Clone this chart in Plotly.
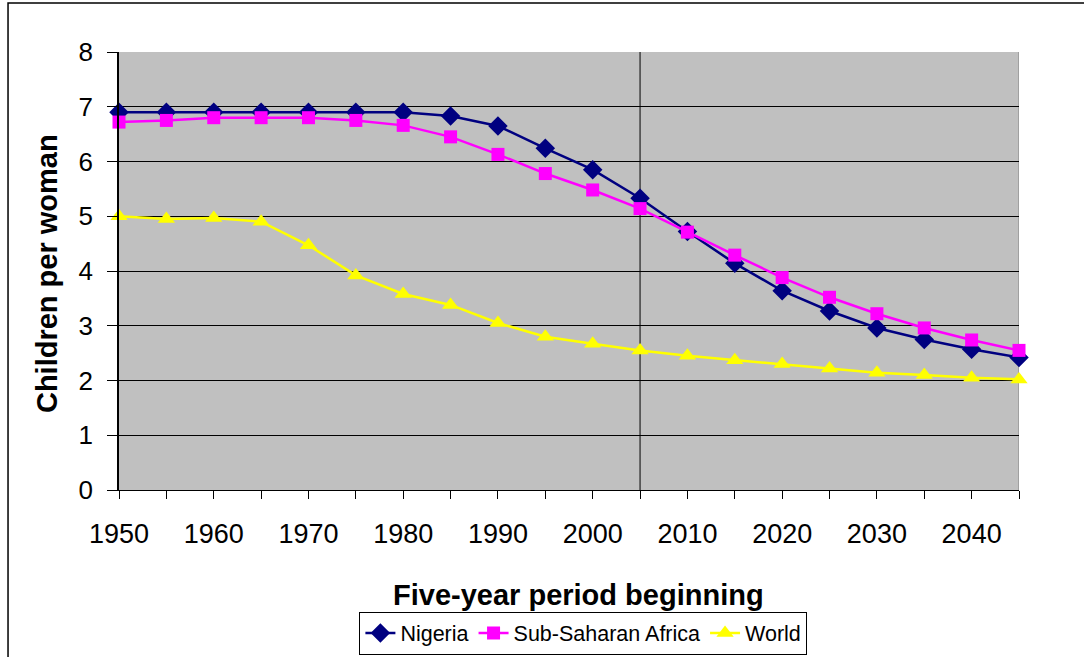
# Fertilidad: Nigeria, Africa subsahariana y Mundo (hijos por mujer)
import plotly.graph_objects as go

years = [1950, 1955, 1960, 1965, 1970, 1975, 1980, 1985, 1990, 1995,
         2000, 2005, 2010, 2015, 2020, 2025, 2030, 2035, 2040, 2045]
nigeria = [6.90, 6.90, 6.90, 6.90, 6.90, 6.90, 6.90, 6.83, 6.65, 6.24,
           5.85, 5.33, 4.72, 4.14, 3.64, 3.27, 2.96, 2.75, 2.57, 2.42]
ssa = [6.72, 6.75, 6.80, 6.80, 6.80, 6.75, 6.66, 6.45, 6.13, 5.78,
       5.48, 5.14, 4.71, 4.29, 3.88, 3.52, 3.22, 2.96, 2.74, 2.55]
world = [5.00, 4.95, 4.97, 4.90, 4.47, 3.92, 3.58, 3.38, 3.05, 2.80,
         2.67, 2.55, 2.45, 2.37, 2.30, 2.22, 2.14, 2.10, 2.05, 2.02]
x_labels = [1950, 1960, 1970, 1980, 1990, 2000, 2010, 2020, 2030, 2040]
marker_year = 2005

FONT = "Arial, Liberation Sans, sans-serif"

fig = go.Figure()

series = [
    ("Nigeria", nigeria, "#000080", "diamond", 15),
    ("Sub-Saharan Africa", ssa, "#FF00FF", "square", 13),
    ("World", world, "#FFFF00", "triangle-up", 15),
]
for name, vals, color, sym, size in series:
    fig.add_trace(go.Scatter(
        x=years, y=vals, mode="lines+markers", name=name,
        line=dict(color=color, width=2.5),
        marker=dict(symbol=sym, size=size, color=color),
        cliponaxis=False,
    ))

# Linea vertical en 2005
fig.add_shape(type="line", xref="x", yref="y", x0=marker_year, x1=marker_year,
              y0=0, y1=8, line=dict(color="black", width=1), layer="below")
# Borde derecho del area de trazado
fig.add_shape(type="line", xref="x", yref="y", x0=2045, x1=2045,
              y0=0, y1=8, line=dict(color="#808080", width=1), layer="below")
# Marco exterior
fig.add_shape(type="rect", xref="paper", yref="paper", x0=-0.1233, x1=1.3,
              y0=-0.6, y1=1.112, line=dict(color="black", width=1.5))

# Titulos de ejes
fig.add_annotation(text="<b>Children per woman</b>", xref="paper", yref="paper",
                   x=-0.08, y=0.493, textangle=-90, showarrow=False,
                   font=dict(size=29), xanchor="center", yanchor="middle")
fig.add_annotation(text="<b>Five-year period beginning</b>", xref="paper", yref="paper",
                   x=0.511, y=-0.24, showarrow=False,
                   font=dict(size=29), xanchor="center", yanchor="middle")

fig.update_layout(
    width=1084, height=657,
    margin=dict(l=119, r=65, t=52, b=167),
    paper_bgcolor="white", plot_bgcolor="#C0C0C0",
    font=dict(family=FONT, color="black"),
    showlegend=True,
    legend=dict(
        orientation="h", x=0.516, xanchor="center",
        yref="container", y=1 - 633 / 657, yanchor="middle",
        bordercolor="black", borderwidth=1, bgcolor="white",
        font=dict(size=21.5, family=FONT), tracegroupgap=0,
    ),
)
fig.update_xaxes(
    range=[1950, 2045], tickvals=x_labels, ticks="outside", ticklen=8,
    tickcolor="black", tickfont=dict(size=27), showgrid=False,
    showline=True, linecolor="black", linewidth=1, zeroline=False,
    ticklabelstandoff=12, automargin=False,
    minor=dict(tickvals=years, ticks="outside", ticklen=8, tickcolor="black"),
)
fig.update_yaxes(
    range=[0, 8], dtick=1, ticks="outside", ticklen=10, tickcolor="black",
    tickfont=dict(size=26), showgrid=True, gridcolor="black", gridwidth=1,
    showline=True, linecolor="black", linewidth=1.5, zeroline=False,
    ticklabelstandoff=9, automargin=False,
)

fig.write_html("out.html", config={"displayModeBar": False},
               post_script="document.body.style.margin='0px';")
